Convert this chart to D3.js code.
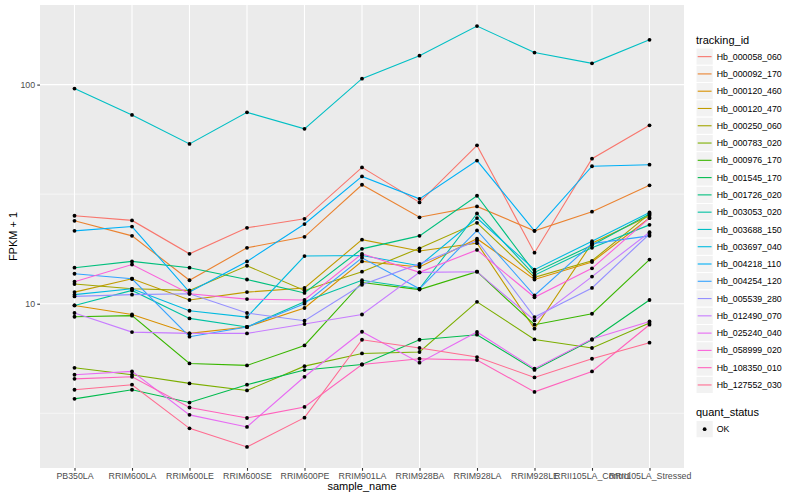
<!DOCTYPE html>
<html>
<head>
<meta charset="utf-8">
<script src="https://cdn.jsdelivr.net/npm/d3@7"></script>
<style>
body { margin: 0; background: #ffffff; }
text { font-family: "Liberation Sans", Arial, Helvetica, sans-serif; }
</style>
</head>
<body>
<div id="chart"></div>
<script>
// x categories
var sampleNames = ["PB350LA", "RRIM600LA", "RRIM600LE", "RRIM600SE", "RRIM600PE", "RRIM901LA",
    "RRIM928BA", "RRIM928LA", "RRIM928LE", "RRII105LA_Control", "RRII105LA_Stressed"];

var trackingIds = ["Hb_000058_060", "Hb_000092_170", "Hb_000120_460", "Hb_000120_470", "Hb_000250_060",
    "Hb_000783_020", "Hb_000976_170", "Hb_001545_170", "Hb_001726_020", "Hb_003053_020",
    "Hb_003688_150", "Hb_003697_040", "Hb_004218_110", "Hb_004254_120", "Hb_005539_280",
    "Hb_012490_070", "Hb_025240_040", "Hb_058999_020", "Hb_108350_010", "Hb_127552_030"];

var quantStatus = ["OK"];

// FPKM + 1, one value per sample
var hb_000058_060 = [25.2, 24.0, 16.9, 22.2, 24.4, 41.9, 29.0, 52.8, 17.1, 45.9, 65.2];
var hb_000092_170 = [23.9, 20.4, 12.8, 18.0, 20.2, 34.9, 24.8, 27.8, 21.5, 26.3, 34.7];
var hb_000120_460 = [9.82, 8.93, 7.32, 7.83, 9.56, 15.6, 14.7, 19.8, 12.9, 15.5, 24.6];
var hb_000120_470 = [11.3, 13.0, 10.4, 11.3, 11.8, 19.6, 17.4, 18.9, 7.69, 18.9, 25.2];
var hb_000250_060 = [12.3, 11.7, 11.5, 14.9, 11.5, 14.0, 17.9, 23.4, 13.2, 15.7, 25.7];
var hb_000783_020 = [5.10, 4.74, 4.33, 4.02, 5.19, 5.93, 6.02, 10.2, 6.87, 6.28, 8.16];
var hb_000976_170 = [8.72, 8.82, 5.34, 5.23, 6.45, 12.5, 11.6, 14.0, 8.02, 9.00, 15.9];
var hb_001545_170 = [3.68, 4.05, 3.54, 4.27, 4.98, 5.28, 6.85, 7.22, 4.99, 6.85, 10.4];
var hb_001726_020 = [14.6, 15.6, 14.6, 12.9, 11.2, 17.8, 20.4, 31.1, 13.9, 18.5, 25.7];
var hb_003053_020 = [9.82, 11.5, 8.57, 7.83, 10.2, 12.8, 11.7, 25.8, 13.5, 18.0, 22.9];
var hb_003688_150 = [95.9, 72.7, 53.6, 74.7, 62.8, 106.4, 135.5, 185.0, 140.0, 125.0, 160.0];
var hb_003697_040 = [11.0, 11.7, 9.29, 8.69, 16.5, 16.6, 14.9, 24.6, 14.3, 19.3, 26.1];
var hb_004218_110 = [21.5, 22.5, 11.3, 15.6, 23.1, 38.1, 30.1, 45.0, 21.5, 42.4, 43.1];
var hb_004254_120 = [13.7, 13.0, 7.07, 7.83, 10.0, 16.2, 11.7, 21.6, 10.9, 18.8, 20.4];
var hb_005539_280 = [10.8, 11.0, 11.1, 9.07, 8.36, 12.2, 15.2, 19.4, 8.69, 11.8, 20.8];
var hb_012490_070 = [9.07, 7.42, 7.32, 7.32, 8.08, 8.93, 13.9, 14.0, 8.39, 13.3, 21.2];
var hb_025240_040 = [4.74, 4.91, 3.11, 2.74, 4.64, 7.45, 5.38, 7.43, 5.05, 6.90, 8.30];
var hb_058999_020 = [12.6, 15.1, 11.1, 10.5, 10.4, 16.9, 13.9, 17.6, 10.7, 14.5, 24.6];
var hb_108350_010 = [4.54, 4.64, 3.36, 3.01, 3.38, 5.28, 5.61, 5.53, 3.96, 4.91, 8.02];
var hb_127552_030 = [4.05, 4.27, 2.70, 2.22, 3.02, 6.85, 6.28, 5.71, 4.61, 5.61, 6.64];

var seriesValues = [hb_000058_060, hb_000092_170, hb_000120_460, hb_000120_470, hb_000250_060,
    hb_000783_020, hb_000976_170, hb_001545_170, hb_001726_020, hb_003053_020,
    hb_003688_150, hb_003697_040, hb_004218_110, hb_004254_120, hb_005539_280,
    hb_012490_070, hb_025240_040, hb_058999_020, hb_108350_010, hb_127552_030];

// ggplot hue palette for 20 levels
var palette = ["#F8766D", "#EA8331", "#D89000", "#C09B00", "#A3A500", "#7CAE00", "#39B600", "#00BB4E",
    "#00BF7D", "#00C1A3", "#00BFC4", "#00BAE0", "#00B0F6", "#35A2FF", "#9590FF", "#C77CFF",
    "#E76BF3", "#FA62DB", "#FF62BC", "#FF6C91"];

var width = 800, height = 500;
var panel = { left: 40, right: 684, top: 5, bottom: 468 };

var svg = d3.select("#chart").append("svg")
    .attr("width", width)
    .attr("height", height);

// log y with the usual 5% expansion
var logExt = d3.extent(d3.merge(seriesValues), function (v) { return Math.log10(v); });
var pad = (logExt[1] - logExt[0]) * 0.05;

var y = d3.scaleLog()
    .domain([Math.pow(10, logExt[0] - pad), Math.pow(10, logExt[1] + pad)])
    .range([panel.bottom, panel.top]);

var x = d3.scalePoint()
    .domain(sampleNames)
    .range([panel.left, panel.right])
    .padding(0.6);

var majorY = [10, 100].filter(function (v) { return v >= y.domain()[0] && v <= y.domain()[1]; });
var minorY = [Math.pow(10, 0.5), Math.pow(10, 1.5), Math.pow(10, 2.5)]
    .filter(function (v) { return v >= y.domain()[0] && v <= y.domain()[1]; });

//Panel background and grid
svg.append("rect")
    .attr("x", panel.left)
    .attr("y", panel.top)
    .attr("width", panel.right - panel.left)
    .attr("height", panel.bottom - panel.top)
    .attr("fill", "#EBEBEB");

var grid = svg.append("g").attr("id", "grid");

grid.selectAll(".minor")
    .data(minorY)
    .enter().append("line")
    .attr("x1", panel.left).attr("x2", panel.right)
    .attr("y1", function (d) { return y(d); })
    .attr("y2", function (d) { return y(d); })
    .attr("stroke", "#ffffff")
    .attr("stroke-width", 0.55);

grid.selectAll(".majorY")
    .data(majorY)
    .enter().append("line")
    .attr("x1", panel.left).attr("x2", panel.right)
    .attr("y1", function (d) { return y(d); })
    .attr("y2", function (d) { return y(d); })
    .attr("stroke", "#ffffff")
    .attr("stroke-width", 1.1);

grid.selectAll(".majorX")
    .data(sampleNames)
    .enter().append("line")
    .attr("x1", function (d) { return x(d); })
    .attr("x2", function (d) { return x(d); })
    .attr("y1", panel.top).attr("y2", panel.bottom)
    .attr("stroke", "#ffffff")
    .attr("stroke-width", 1.1);

//Lines, one per tracking id
var line = d3.line()
    .x(function (d, i) { return x(sampleNames[i]); })
    .y(function (d) { return y(d); });

svg.append("g")
    .attr("id", "lines")
    .selectAll("path")
    .data(seriesValues)
    .enter().append("path")
    .attr("d", line)
    .attr("fill", "none")
    .attr("stroke", function (d, i) { return palette[i]; })
    .attr("stroke-width", 1.1);

//Points on top
var pts = [];
seriesValues.forEach(function (s) {
    s.forEach(function (v, i) { pts.push({ name: sampleNames[i], v: v }); });
});

svg.append("g")
    .attr("id", "points")
    .selectAll("circle")
    .data(pts)
    .enter().append("circle")
    .attr("cx", function (d) { return x(d.name); })
    .attr("cy", function (d) { return y(d.v); })
    .attr("r", 1.9)
    .attr("fill", "#000000");

//Axes
var yAxis = svg.append("g")
    .attr("transform", "translate(" + panel.left + ",0)")
    .call(d3.axisLeft(y).tickValues(majorY).tickFormat(d3.format("d")).tickSize(2.75).tickPadding(2.2));

var xAxis = svg.append("g")
    .attr("transform", "translate(0," + panel.bottom + ")")
    .call(d3.axisBottom(x).tickSize(2.75).tickPadding(2.2));

[yAxis, xAxis].forEach(function (a) {
    a.select(".domain").remove();
    a.selectAll(".tick line").attr("stroke", "#333333").attr("stroke-width", 1.1);
    a.selectAll(".tick text")
        .attr("fill", "#4D4D4D")
        .style("font-size", "8.8px")
        .style("font-family", "'Liberation Sans', Arial, sans-serif");
});

svg.append("text")
    .attr("x", (panel.left + panel.right) / 2)
    .attr("y", 490)
    .attr("text-anchor", "middle")
    .attr("font-size", "11px")
    .attr("fill", "#000000")
    .text("sample_name");

svg.append("text")
    .attr("transform", "translate(16.5," + (panel.top + panel.bottom) / 2 + ") rotate(-90)")
    .attr("text-anchor", "middle")
    .attr("font-size", "11px")
    .attr("fill", "#000000")
    .text("FPKM + 1");

//Legend: tracking_id
var keySize = 17.28;
var legendX = 696;
var legend = svg.append("g").attr("id", "legend");

legend.append("text")
    .attr("x", legendX)
    .attr("y", 43.5)
    .attr("font-size", "11px")
    .attr("fill", "#000000")
    .text("tracking_id");

var keys = legend.selectAll(".key")
    .data(trackingIds)
    .enter().append("g")
    .attr("class", "key")
    .attr("transform", function (d, i) { return "translate(" + legendX + "," + (48 + i * keySize) + ")"; });

keys.append("rect")
    .attr("width", keySize)
    .attr("height", keySize)
    .attr("fill", "#F2F2F2")
    .attr("stroke", "#ffffff")
    .attr("stroke-width", 1);

keys.append("line")
    .attr("x1", 1.7).attr("x2", keySize - 1.7)
    .attr("y1", keySize / 2).attr("y2", keySize / 2)
    .attr("stroke", function (d, i) { return palette[i]; })
    .attr("stroke-width", 1.1);

keys.append("text")
    .attr("x", keySize + 3.4)
    .attr("y", keySize / 2 + 3.1)
    .attr("font-size", "8.8px")
    .attr("fill", "#000000")
    .text(function (d) { return d; });

//Legend: quant_status
legend.append("text")
    .attr("x", legendX)
    .attr("y", 416)
    .attr("font-size", "11px")
    .attr("fill", "#000000")
    .text("quant_status");

var qKeys = legend.selectAll(".qkey")
    .data(quantStatus)
    .enter().append("g")
    .attr("class", "qkey")
    .attr("transform", function (d, i) { return "translate(" + legendX + "," + (420.5 + i * keySize) + ")"; });

qKeys.append("rect")
    .attr("width", keySize)
    .attr("height", keySize)
    .attr("fill", "#F2F2F2")
    .attr("stroke", "#ffffff")
    .attr("stroke-width", 1);

qKeys.append("circle")
    .attr("cx", keySize / 2)
    .attr("cy", keySize / 2)
    .attr("r", 1.9)
    .attr("fill", "#000000");

qKeys.append("text")
    .attr("x", keySize + 3.4)
    .attr("y", keySize / 2 + 3.1)
    .attr("font-size", "8.8px")
    .attr("fill", "#000000")
    .text(function (d) { return d; });
</script>
</body>
</html>
